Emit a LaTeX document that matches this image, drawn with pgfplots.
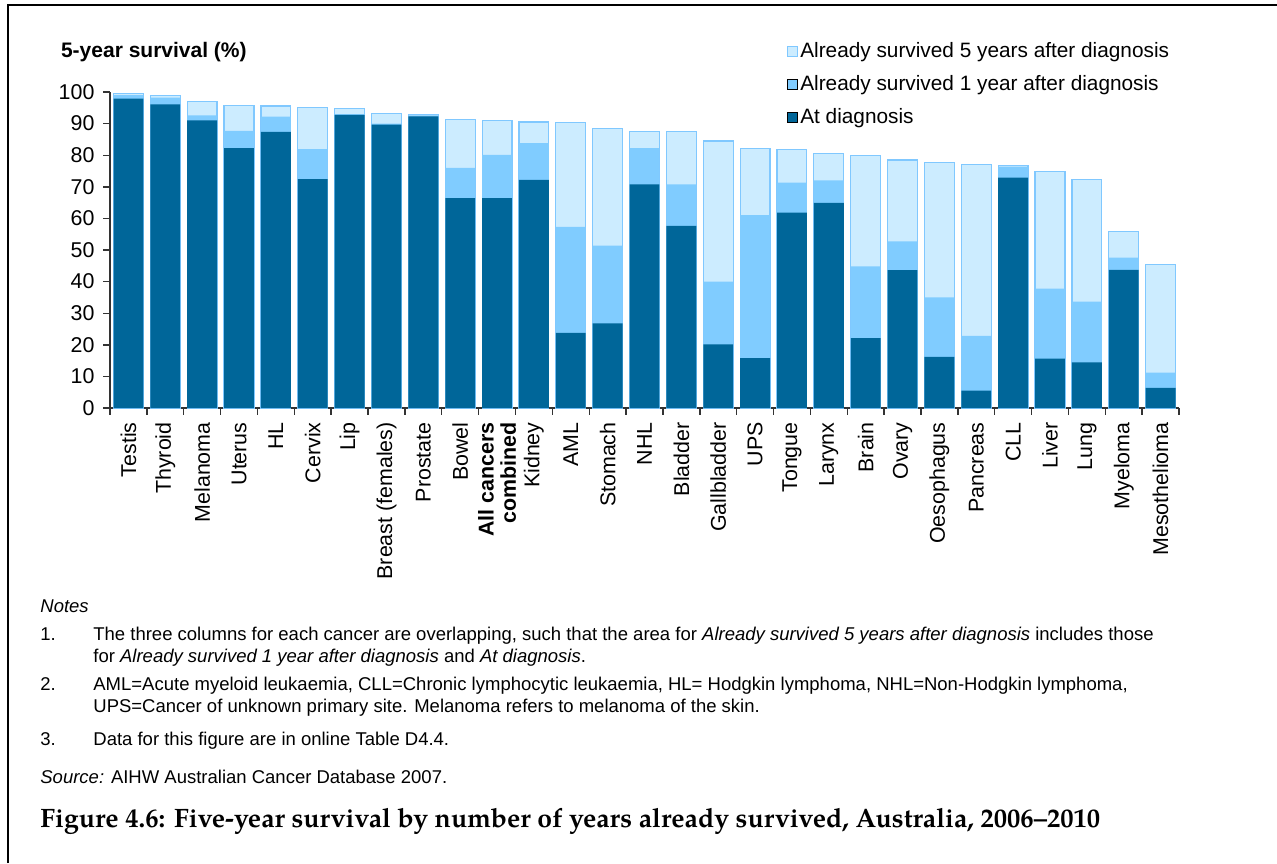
\documentclass[border=0pt]{standalone}
\usepackage{fontspec}
\setmainfont{Liberation Sans}
\newfontfamily\capfont{TeX Gyre Pagella}
\usepackage{pgfplots}
\usepackage{pgfplotstable}
\pgfplotsset{compat=1.18}
\definecolor{cdark}{RGB}{0,102,153}
\definecolor{cmid}{RGB}{128,204,255}
\definecolor{clight}{RGB}{204,236,255}
\definecolor{cedge}{RGB}{128,200,255}

\pgfplotstableread{
x s5 s1 s0
0 99.6 99.0 97.9
1 98.9 98.2 96.1
2 97.0 92.6 91.0
3 95.8 87.7 82.2
4 95.6 92.2 87.4
5 95.1 81.9 72.4
6 94.8 93.0 92.8
7 93.2 90.0 89.7
8 92.9 92.6 92.3
9 91.4 76.0 66.4
10 91.1 80.1 66.4
11 90.5 83.8 72.2
12 90.4 57.3 23.8
13 88.4 51.4 26.8
14 87.5 82.2 70.8
15 87.5 70.8 57.6
16 84.5 40.0 20.1
17 82.2 61.0 15.8
18 81.8 71.3 61.8
19 80.6 72.0 64.9
20 79.9 44.8 22.1
21 78.5 52.7 43.6
22 77.6 35.0 16.2
23 77.0 22.8 5.5
24 76.7 76.4 72.9
25 74.9 37.8 15.6
26 72.3 33.7 14.4
27 55.8 47.6 43.7
28 45.3 11.2 6.4
}\survdata

\begin{document}
\begin{tikzpicture}[x=0.5pt,y=0.5pt]
\useasboundingbox (0,0) rectangle (1277,863);
\draw[line width=1pt] (8,0) -- (8,857.5) -- (1277,857.5);
\begin{axis}[
  at={(55pt,227.5pt)}, anchor=south west,
  scale only axis, width=534.5pt, height=158pt,
  xmin=-0.5, xmax=28.5, ymin=0, ymax=100,
  axis x line*=bottom, axis y line*=left,
  axis line style={line width=0.7pt, color=black!80},
  tick align=outside,
  major tick length=3.25pt,
  tick style={line width=0.7pt, color=black!80},
  ytick={0,10,...,100},
  xtick={-0.5,0.5,...,28.5},
  xticklabels={},
  extra x ticks={0,...,28},
  extra x tick labels={Testis,Thyroid,Melanoma,Uterus,HL,Cervix,Lip,Breast (females),Prostate,Bowel,{\textbf{All cancers}\\\textbf{combined}},Kidney,AML,Stomach,NHL,Bladder,Gallbladder,UPS,Tongue,Larynx,Brain,Ovary,Oesophagus,Pancreas,CLL,Liver,Lung,Myeloma,Mesothelioma},
  extra x tick style={major tick length=0pt,
    xticklabel style={rotate=90, anchor=east, align=right, inner sep=6pt, xshift=-1pt, font=\fontsize{10.7}{11.2}\selectfont}},
  yticklabel style={font=\fontsize{10.7}{12}\selectfont, xshift=-1pt},
  /pgf/number format/assume math mode=true,
  ybar, bar width=0.81, bar shift=0pt,
  legend style={at={(0.633,1.1655)}, anchor=north west, draw=none, fill=none,
    font=\fontsize{10.4}{12}\selectfont, row sep=5.5pt, inner sep=0pt,
    nodes={inner sep=1pt}},
  legend cell align=left,
  legend image code/.code={\draw[#1, line width=0.4pt] (0pt,-2.6pt) rectangle (5.2pt,2.6pt);},
]
\addplot[fill=clight, draw=cedge, line width=0.6pt] table[x=x,y=s5] {\survdata};
\addlegendentry{Already survived 5 years after diagnosis}
\addplot[fill=cmid, draw=none] table[x=x,y=s1] {\survdata};
\addlegendentry{Already survived 1 year after diagnosis}
\addplot[fill=cdark, draw=none] table[x=x,y=s0] {\survdata};
\addlegendentry{At diagnosis}
\end{axis}
\node[anchor=west, font=\bfseries\fontsize{10.5}{12}\selectfont] at (54,811) {5-year survival (\%)};
\begin{scope}[every node/.style={anchor=base west, inner sep=0pt, font=\fontsize{9.25}{10}\selectfont}]
\node at (40,251) {\itshape Notes};
\node at (40,223) {1.};
\node at (93,223) {The three columns for each cancer are overlapping, such that the area for \textit{Already survived 5 years after diagnosis} includes those};
\node at (93,201) {for \textit{Already survived 1 year after diagnosis} and \textit{At diagnosis}.};
\node at (40,173) {2.};
\node at (93,173) {AML=Acute myeloid leukaemia, CLL=Chronic lymphocytic leukaemia, HL= Hodgkin lymphoma, NHL=Non-Hodgkin lymphoma,};
\node at (93,151) {UPS=Cancer of unknown primary site. Melanoma refers to melanoma of the skin.};
\node at (40,118) {3.};
\node at (93,118) {Data for this figure are in online Table D4.4.};
\node at (40,80) {\textit{Source:} AIHW Australian Cancer Database 2007.};
\end{scope}
\node[anchor=base west, inner sep=0pt, font=\capfont\bfseries\fontsize{13.3}{15}\selectfont] at (40,36) {Figure 4.6: Five-year survival by number of years already survived, Australia, 2006–2010};
\end{tikzpicture}
\end{document}
